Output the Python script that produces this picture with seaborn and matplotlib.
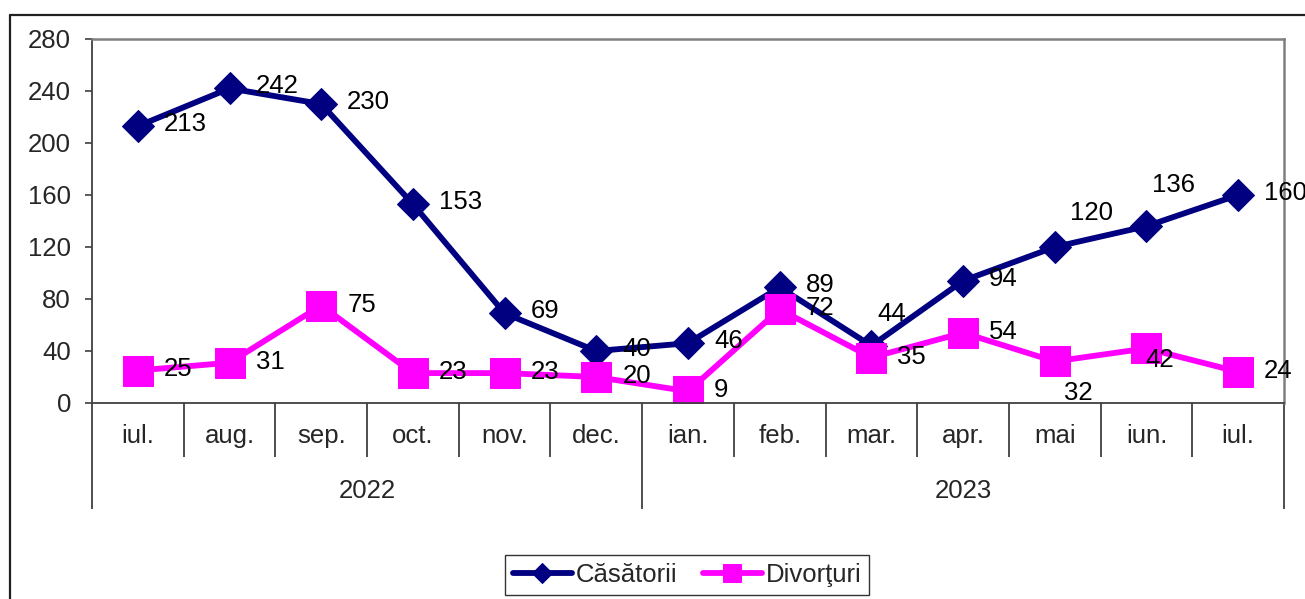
import numpy as np
import pandas as pd
import matplotlib
matplotlib.use("Agg")
import matplotlib.pyplot as plt
from matplotlib.lines import Line2D
import seaborn as sns

# data
months = ['iul.', 'aug.', 'sep.', 'oct.', 'nov.', 'dec.', 'ian.',
          'feb.', 'mar.', 'apr.', 'mai', 'iun.', 'iul.']
years = ['2022', '2023']
year_span = [6, 7]  # number of months in each year group
casatorii = [213, 242, 230, 153, 69, 40, 46, 89, 44, 94, 120, 136, 160]
divorturi = [25, 31, 75, 23, 23, 20, 9, 72, 35, 54, 32, 42, 24]

# label offsets in pixels (dx, dy) where they differ from the default
lab_off_c = {8: (6, 32), 10: (15, 34), 11: (6, 41)}
lab_off_d = {10: (9, -32), 11: (-1, -12)}

sns.set_style('white')
plt.rcParams['font.family'] = ['Liberation Sans', 'DejaVu Sans']
plt.rcParams['font.size'] = 18.5

navy = '#000080'
magenta = '#FF00FF'
px = 72 / 100  # points per pixel
fs = 18.5

df = pd.DataFrame({'idx': np.arange(len(months)),
                   'Căsătorii': casatorii,
                   'Divorţuri': divorturi})

fig = plt.figure(figsize=(13.05, 5.99), dpi=100)
ax = fig.add_axes([92 / 1305, 1 - 403 / 599, (1284 - 92) / 1305, (403 - 39) / 599])

sns.lineplot(data=df, x='idx', y='Căsătorii', ax=ax, color=navy, lw=4.2,
             marker='D', markersize=16, markeredgecolor=navy,
             markerfacecolor=navy, label='Căsătorii')
sns.lineplot(data=df, x='idx', y='Divorţuri', ax=ax, color=magenta, lw=4.2,
             marker='s', markersize=21, markeredgecolor=magenta,
             markerfacecolor=magenta, label='Divorţuri')

# data labels
for i, v in enumerate(casatorii):
    dx, dy = lab_off_c.get(i, (26, 2))
    ax.annotate(str(v), (i, v), xytext=(dx * px, dy * px), textcoords='offset points',
                ha='left', va='center', fontsize=fs, color='black', zorder=5)
for i, v in enumerate(divorturi):
    dx, dy = lab_off_d.get(i, (26, 1))
    ax.annotate(str(v), (i, v), xytext=(dx * px, dy * px), textcoords='offset points',
                ha='left', va='center', fontsize=fs, color='black', zorder=5)

ax.set_xlim(-0.5, len(months) - 0.5)
ax.set_ylim(0, 280)
ax.set_yticks(np.arange(0, 281, 40))
ax.set_xticks(np.arange(len(months)))
ax.set_xticklabels(months)
ax.set_xlabel('')
ax.set_ylabel('')
ax.tick_params(axis='x', which='major', length=0, pad=21 * px, labelsize=fs)
ax.tick_params(axis='y', length=7 * px, width=1.2, pad=14 * px, labelsize=fs,
               color='#404040', direction='out', left=True)

# category separators below the axis
bounds = np.arange(len(months) + 1) - 0.5
trans = ax.get_xaxis_transform()
group_edges = np.concatenate([[0], np.cumsum(year_span)]) - 0.5
short = [b for b in bounds if b not in group_edges]
ax.vlines(short, -54 / 364, 0, transform=trans, clip_on=False, color='#404040', lw=1.3)
ax.vlines(group_edges, -106 / 364, 0, transform=trans, clip_on=False, color='#404040', lw=1.3)
for k, yr in enumerate(years):
    xc = (group_edges[k] + group_edges[k + 1]) / 2
    ax.text(xc, -88 / 364, yr, transform=trans, ha='center', va='center', fontsize=fs)

for s in ['left', 'bottom']:
    ax.spines[s].set_color('#404040')
    ax.spines[s].set_linewidth(1.3)
for s in ['top', 'right']:
    ax.spines[s].set_color('#808080')
    ax.spines[s].set_linewidth(1.8)

# legend
handles, labels = ax.get_legend_handles_labels()
ax.get_legend().remove()
leg = fig.legend(handles, labels, loc='center', bbox_to_anchor=(687 / 1305, 1 - 575 / 599),
                 ncol=2, frameon=True, fancybox=False, edgecolor='black', fontsize=fs,
                 markerscale=0.65, handlelength=2.3, columnspacing=1.0, handletextpad=0.15,
                 borderpad=0.3)
leg.get_frame().set_linewidth(1.0)

# outer chart frame
fig.add_artist(Line2D([10 / 1305, 10 / 1305], [0, 1 - 15 / 599], color='#202020', lw=1.6))
fig.add_artist(Line2D([10 / 1305, 1], [1 - 15 / 599, 1 - 15 / 599], color='#202020', lw=1.6))

fig.savefig('out.png', dpi=100)
